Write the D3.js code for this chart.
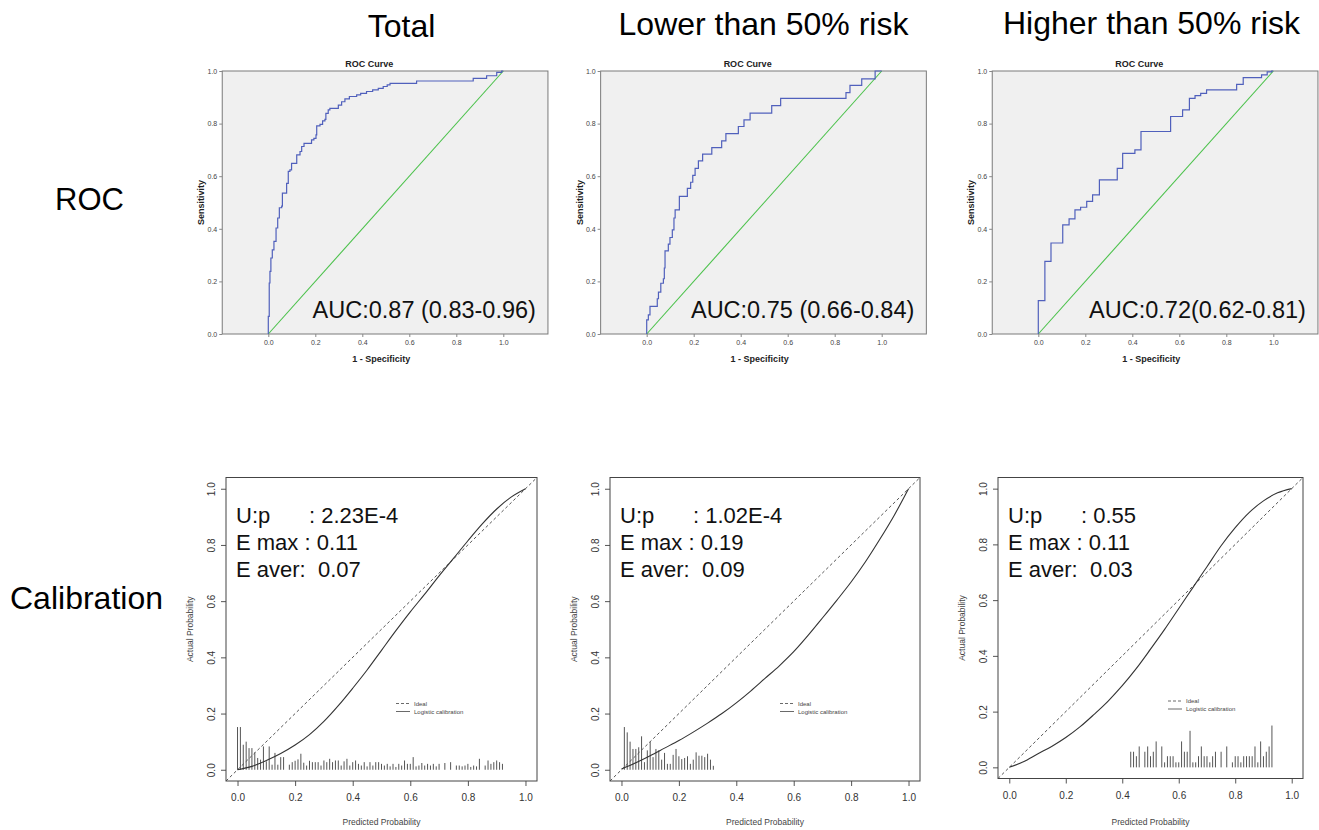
<!DOCTYPE html>
<html><head><meta charset="utf-8">
<script src="https://cdn.jsdelivr.net/npm/d3@7"></script>
<style>
body{margin:0;background:#fff;}
svg{display:block;font-family:"Liberation Sans",Arial,sans-serif;}
</style>
</head><body><svg id="chart" width="1319" height="830"></svg>
<script>
// ---------------- DATA ----------------
const groups = ["Total", "Lower than 50% risk", "Higher than 50% risk"];
const rowLabels = ["ROC", "Calibration"];
const rocTitle = "ROC Curve";
const aucLabels = ["AUC:0.87 (0.83-0.96)", "AUC:0.75 (0.66-0.84)", "AUC:0.72(0.62-0.81)"];
const rocTicks = [0, 0.2, 0.4, 0.6, 0.8, 1.0];
const calTicks = [0, 0.2, 0.4, 0.6, 0.8, 1.0];

// ROC step curves: [1 - specificity, sensitivity] at each rise
const rocTotal = [[0,0],[0,0.067],[0.004,0.194],[0.007,0.238],[0.011,0.289],[0.017,0.320],[0.024,0.352],[0.033,0.403],[0.040,0.441],[0.047,0.480],[0.057,0.486],[0.060,0.536],[0.078,0.573],[0.085,0.618],[0.092,0.624],[0.099,0.649],[0.121,0.681],[0.135,0.694],[0.142,0.713],[0.152,0.725],[0.184,0.738],[0.194,0.744],[0.203,0.757],[0.206,0.791],[0.220,0.797],[0.231,0.810],[0.241,0.816],[0.245,0.839],[0.255,0.852],[0.262,0.858],[0.298,0.870],[0.312,0.883],[0.326,0.894],[0.345,0.903],[0.376,0.909],[0.393,0.915],[0.418,0.922],[0.444,0.928],[0.468,0.934],[0.489,0.941],[0.506,0.947],[0.518,0.953],[0.631,0.962],[0.872,0.972],[0.929,0.982],[0.972,0.995],[0.993,1.0],[1.0,1.0]];
const rocLower = [[0,0],[0,0.054],[0.007,0.073],[0.014,0.105],[0.045,0.134],[0.050,0.159],[0.060,0.193],[0.071,0.210],[0.075,0.251],[0.078,0.316],[0.092,0.342],[0.099,0.367],[0.109,0.396],[0.116,0.441],[0.121,0.472],[0.139,0.523],[0.173,0.554],[0.187,0.577],[0.196,0.603],[0.206,0.630],[0.220,0.658],[0.238,0.684],[0.277,0.709],[0.319,0.734],[0.337,0.762],[0.390,0.789],[0.414,0.814],[0.440,0.840],[0.532,0.868],[0.570,0.896],[0.848,0.918],[0.865,0.945],[0.915,0.970],[0.972,1.0],[1.0,1.0]];
const rocHigher = [[0,0],[0,0.127],[0.028,0.276],[0.054,0.346],[0.104,0.415],[0.131,0.438],[0.156,0.472],[0.180,0.482],[0.206,0.504],[0.231,0.529],[0.260,0.586],[0.336,0.630],[0.359,0.687],[0.411,0.700],[0.437,0.770],[0.563,0.827],[0.614,0.852],[0.643,0.896],[0.667,0.906],[0.691,0.915],[0.716,0.928],[0.844,0.949],[0.872,0.975],[0.950,0.985],[0.974,0.997],[0.993,1.0],[1.0,1.0]];

// Logistic calibration curves: predicted grid and actual values
const calGrid = [0,0.05,0.1,0.15,0.2,0.25,0.3,0.35,0.4,0.45,0.5,0.55,0.6,0.65,0.7,0.75,0.8,0.85,0.9,0.95,1.0];
const calTotal  = [0,0.012,0.033,0.058,0.088,0.125,0.172,0.228,0.29,0.355,0.425,0.495,0.562,0.625,0.69,0.752,0.815,0.875,0.928,0.97,1.0];
const calLower  = [0.003,0.025,0.05,0.077,0.104,0.134,0.166,0.2,0.238,0.28,0.325,0.37,0.42,0.478,0.54,0.603,0.668,0.74,0.82,0.905,1.0];
const calHigher = [0,0.02,0.048,0.075,0.107,0.145,0.19,0.238,0.293,0.355,0.424,0.495,0.57,0.645,0.72,0.795,0.86,0.915,0.956,0.985,1.0];

// Distribution spikes (predicted probability, height)
const spikeTotalX = [0.00,0.01,0.02,0.03,0.04,0.05,0.06,0.07,0.08,0.09,0.10,0.11,0.12,0.13,0.14,0.15,0.16,0.18,0.19,0.20,0.21,0.22,0.23,0.24,0.25,0.26,0.27,0.28,0.29,0.30,0.31,0.32,0.33,0.34,0.35,0.36,0.37,0.38,0.39,0.40,0.41,0.42,0.43,0.44,0.45,0.46,0.47,0.48,0.49,0.50,0.51,0.52,0.53,0.54,0.55,0.56,0.57,0.58,0.59,0.60,0.61,0.62,0.63,0.64,0.65,0.66,0.67,0.68,0.69,0.70,0.72,0.74,0.76,0.77,0.78,0.79,0.80,0.81,0.82,0.83,0.84,0.86,0.87,0.88,0.89,0.90,0.91,0.92];
const spikeTotalH = [0.152,0.152,0.089,0.10,0.077,0.077,0.062,0.042,0.036,0.083,0.03,0.083,0.018,0.06,0.018,0.045,0.045,0.018,0.027,0.032,0.037,0.057,0.025,0.015,0.032,0.027,0.027,0.027,0.015,0.033,0.027,0.039,0.027,0.033,0.033,0.015,0.03,0.039,0.015,0.027,0.033,0.021,0.015,0.027,0.012,0.027,0.015,0.027,0.027,0.021,0.015,0.021,0.012,0.021,0.01,0.021,0.015,0.033,0.021,0.021,0.045,0.012,0.015,0.024,0.015,0.021,0.015,0.021,0.012,0.021,0.024,0.027,0.015,0.015,0.012,0.015,0.021,0.01,0.015,0.012,0.039,0.015,0.033,0.021,0.027,0.033,0.027,0.021];
const spikeLowerX = [0.01,0.02,0.03,0.04,0.05,0.06,0.07,0.08,0.09,0.10,0.11,0.12,0.13,0.14,0.15,0.16,0.17,0.18,0.19,0.20,0.21,0.22,0.23,0.24,0.25,0.26,0.27,0.28,0.29,0.30,0.31,0.32];
const spikeLowerH = [0.152,0.133,0.10,0.074,0.074,0.08,0.119,0.027,0.069,0.10,0.045,0.074,0.069,0.036,0.06,0.021,0.021,0.053,0.074,0.048,0.038,0.042,0.048,0.021,0.036,0.062,0.05,0.05,0.045,0.057,0.036,0.014];
const spikeHigherX = [0.43,0.44,0.45,0.46,0.48,0.49,0.50,0.51,0.52,0.54,0.55,0.56,0.57,0.58,0.59,0.60,0.61,0.62,0.63,0.64,0.65,0.66,0.67,0.68,0.69,0.70,0.71,0.72,0.73,0.75,0.77,0.79,0.80,0.81,0.82,0.83,0.84,0.85,0.86,0.87,0.88,0.89,0.90,0.91,0.92,0.93];
const spikeHigherH = [0.056,0.056,0.04,0.075,0.056,0.075,0.04,0.056,0.093,0.075,0.018,0.04,0.04,0.04,0.018,0.018,0.093,0.056,0.056,0.131,0.018,0.018,0.04,0.075,0.04,0.04,0.018,0.04,0.056,0.056,0.075,0.018,0.04,0.04,0.018,0.04,0.04,0.04,0.04,0.075,0.018,0.093,0.04,0.056,0.075,0.15];

const statUp = ["2.23E-4", "1.02E-4", "0.55"];
const statEmax = ["0.11", "0.19", "0.11"];
const statEaver = ["0.07", "0.09", "0.03"];
const legendLabels = ["Ideal", "Logistic calibration"];

// ---------------- LAYOUT ----------------
const svg = d3.select("#chart");
const rocData = [rocTotal, rocLower, rocHigher];
const calData = [calTotal, calLower, calHigher];
const spikeX = [spikeTotalX, spikeLowerX, spikeHigherX];
const spikeH = [spikeTotalH, spikeLowerH, spikeHigherH];

const titleLayout = [{x:401.5, y:36.5}, {x:763.5, y:35}, {x:1151.5, y:34}];
const rocLayout = [{x0:268.3}, {x0:646.7}, {x0:1038.3}];
const calLayout = [{left:226, right:537, top:477.5, bottom:781}, {left:610, right:920, top:477.5, bottom:781}, {left:998, right:1303, top:477.5, bottom:778.5}];

// Column titles
svg.selectAll("text.coltitle").data(groups).join("text")
  .attr("class","coltitle")
  .attr("x",(d,i)=>titleLayout[i].x).attr("y",(d,i)=>titleLayout[i].y)
  .attr("text-anchor","middle").attr("font-size",32).attr("fill","#000")
  .text(d=>d);

// Row labels
svg.append("text").attr("x",55).attr("y",210).attr("font-size",31).attr("fill","#000").text(rowLabels[0]);
svg.append("text").attr("x",10).attr("y",609).attr("font-size",32).attr("fill","#000").text(rowLabels[1]);

// ---------------- ROC PANELS ----------------
rocData.forEach((pts, i) => {
  const x0 = rocLayout[i].x0;
  const x = d3.scaleLinear().domain([0,1]).range([x0, x0+235]);
  const y = d3.scaleLinear().domain([0,1]).range([334, 71]);
  const g = svg.append("g");
  const bl = x(-0.196), br = x(1.19);
  g.append("rect").attr("x",bl).attr("y",y(1)).attr("width",br-bl).attr("height",y(0)-y(1))
    .attr("fill","#f0f0f0").attr("stroke","#7a7a7a").attr("stroke-width",1);
  const xAxis = d3.axisBottom(x).tickValues(rocTicks).tickFormat(d3.format(".1f")).tickSize(3).tickPadding(3);
  const yAxis = d3.axisLeft(y).tickValues(rocTicks).tickFormat(d3.format(".1f")).tickSize(3).tickPadding(2);
  const gx = g.append("g").attr("transform",`translate(0,${y(0)})`).call(xAxis);
  const gy = g.append("g").attr("transform",`translate(${bl},0)`).call(yAxis);
  [gx, gy].forEach(a => {
    a.select(".domain").remove();
    a.selectAll(".tick line").attr("stroke","#888");
    a.selectAll(".tick text").attr("font-size",7).attr("fill","#444").attr("font-family","Liberation Sans, Arial, sans-serif");
  });
  g.append("line").attr("x1",x(0)).attr("y1",y(0)).attr("x2",x(1)).attr("y2",y(1))
    .attr("stroke","#4cc24c").attr("stroke-width",1.1);
  const line = d3.line().x(d=>x(d[0])).y(d=>y(d[1])).curve(d3.curveStepAfter);
  g.append("path").datum(pts).attr("d",line).attr("fill","none")
    .attr("stroke","#5060bc").attr("stroke-width",1.2);
  g.append("text").attr("x",bl+147).attr("y",66.5).attr("text-anchor","middle")
    .attr("font-size",9).attr("font-weight","bold").attr("fill","#222").text(rocTitle);
  g.append("text").attr("transform",`translate(${bl-18},${y(0.5)}) rotate(-90)`).attr("text-anchor","middle")
    .attr("font-size",9).attr("font-weight","bold").attr("fill","#222").text("Sensitivity");
  g.append("text").attr("x",bl+159).attr("y",362).attr("text-anchor","middle")
    .attr("font-size",9).attr("font-weight","bold").attr("fill","#222").text("1 - Specificity");
  g.append("text").attr("x",br-12).attr("y",318).attr("text-anchor","end")
    .attr("font-size",23.5).attr("fill","#111").text(aucLabels[i]);
});

// ---------------- CALIBRATION PANELS ----------------
calData.forEach((vals, i) => {
  const L = calLayout[i];
  const x = d3.scaleLinear().domain([-0.04,1.04]).range([L.left, L.right]);
  const y = d3.scaleLinear().domain([-0.04,1.04]).range([L.bottom, L.top]);
  const g = svg.append("g");
  const xAxis = d3.axisBottom(x).tickValues(calTicks).tickFormat(d3.format(".1f")).tickSize(5).tickPadding(8);
  const yAxis = d3.axisLeft(y).tickValues(calTicks).tickFormat(d3.format(".1f")).tickSize(5).tickPadding(4);
  const gx = g.append("g").attr("transform",`translate(0,${L.bottom})`).call(xAxis);
  const gy = g.append("g").attr("transform",`translate(${L.left},0)`).call(yAxis);
  [gx, gy].forEach(a => {
    a.select(".domain").remove();
    a.selectAll(".tick line").attr("stroke","#555");
    a.selectAll(".tick text").attr("font-size",10).attr("fill","#333").attr("font-family","Liberation Sans, Arial, sans-serif");
  });
  gy.selectAll(".tick text").attr("text-anchor","middle").attr("dy",null)
    .attr("transform","translate(-14.5,0) rotate(-90)").attr("y",3.5).attr("x",0);

  g.append("rect").attr("x",L.left).attr("y",L.top).attr("width",L.right-L.left).attr("height",L.bottom-L.top)
    .attr("fill","none").attr("stroke","#444").attr("stroke-width",1);
  g.append("line").attr("x1",x(-0.04)).attr("y1",y(-0.04)).attr("x2",x(1.04)).attr("y2",y(1.04))
    .attr("stroke","#444").attr("stroke-width",0.9).attr("stroke-dasharray","3,2.5");
  const xs = spikeX[i], hs = spikeH[i];
  g.selectAll("line.spike").data(xs.map((v,k)=>[v,hs[k]])).join("line").attr("class","spike")
    .attr("x1",d=>x(d[0])).attr("x2",d=>x(d[0])).attr("y1",y(0)).attr("y2",d=>y(d[1]))
    .attr("stroke","#555").attr("stroke-width",1);
  const line = d3.line().x((d,k)=>x(calGrid[k])).y(d=>y(d)).curve(d3.curveMonotoneX);
  g.append("path").datum(vals).attr("d",line).attr("fill","none").attr("stroke","#333").attr("stroke-width",1.1);
  g.append("text").attr("x",(L.left+L.right)/2).attr("y",825).attr("text-anchor","middle")
    .attr("font-size",8.5).attr("fill","#444").text("Predicted Probability");
  g.append("text").attr("transform",`translate(${L.left-33},${(L.top+L.bottom)/2}) rotate(-90)`).attr("text-anchor","middle")
    .attr("font-size",8.5).attr("fill","#444").text("Actual Probability");
  const tx = L.left + 10;
  g.append("text").attr("x",tx).attr("y",522.5).attr("font-size",22).attr("fill","#111").text("U:p");
  g.append("text").attr("x",tx+73).attr("y",522.5).attr("font-size",22).attr("fill","#111").text(": " + statUp[i]);
  g.append("text").attr("x",tx).attr("y",550).attr("font-size",22).attr("fill","#111").attr("xml:space","preserve").style("white-space","pre").text("E max : " + statEmax[i]);
  g.append("text").attr("x",tx).attr("y",577).attr("font-size",22).attr("fill","#111").attr("xml:space","preserve").style("white-space","pre").text("E aver:  " + statEaver[i]);
  const ly = L.bottom - 77.5;
  g.append("line").attr("x1",L.left+170).attr("x2",L.left+184).attr("y1",ly).attr("y2",ly)
    .attr("stroke","#444").attr("stroke-width",0.8).attr("stroke-dasharray","3,2");
  g.append("line").attr("x1",L.left+170).attr("x2",L.left+184).attr("y1",ly+8).attr("y2",ly+8)
    .attr("stroke","#444").attr("stroke-width",0.8);
  g.append("text").attr("x",L.left+188).attr("y",ly+2).attr("font-size",6).attr("fill","#444").text(legendLabels[0]);
  g.append("text").attr("x",L.left+188).attr("y",ly+10).attr("font-size",6).attr("fill","#444").text(legendLabels[1]);
});
</script>
</body></html>
